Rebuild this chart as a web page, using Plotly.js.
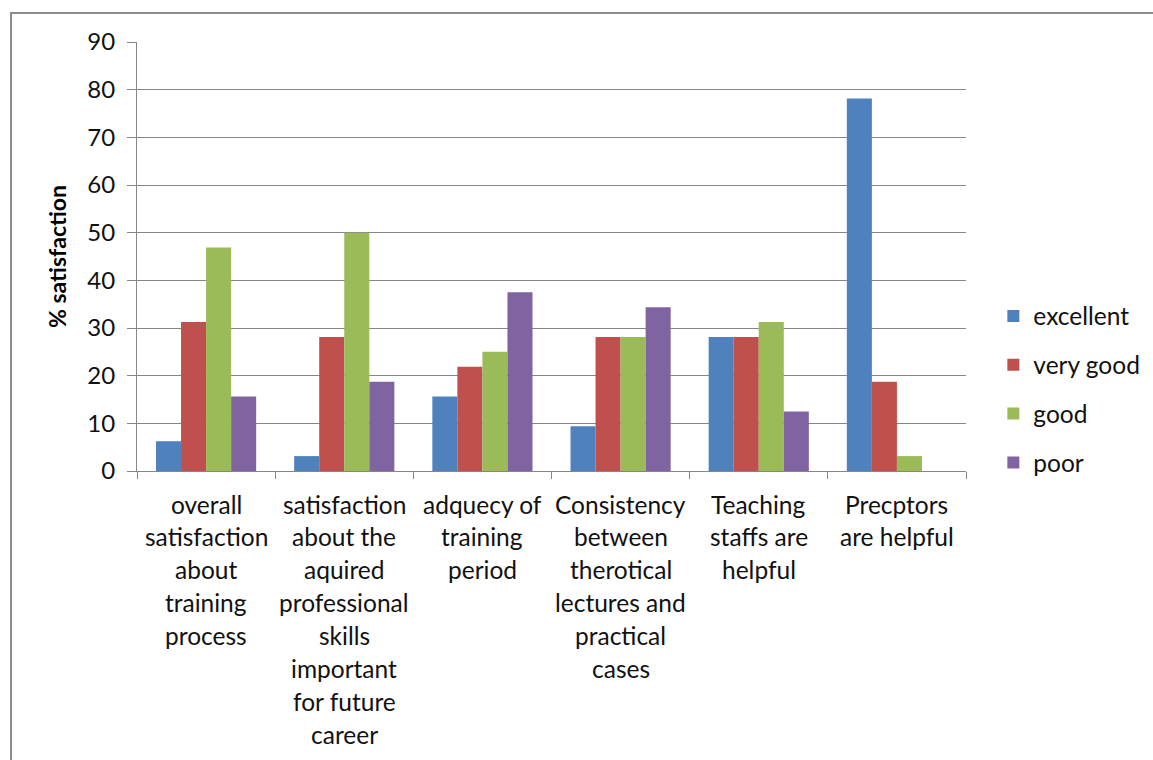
<!DOCTYPE html>
<html>
<head>
<meta charset="utf-8">
<script src="https://cdn.plot.ly/plotly-3.0.1.min.js"></script>
<style>
  html, body { margin: 0; padding: 0; background: #ffffff; }
  #frame {
    position: absolute; left: 10px; top: 12px; right: -10px; bottom: -10px;
    border-left: 2px solid #8c8c8c; border-top: 2px solid #8c8c8c;
    pointer-events: none; z-index: 5;
  }
  #chart { position: absolute; left: 0; top: 0; width: 1153px; height: 760px; }
</style>
</head>
<body>
<div id="chart"></div>
<div id="frame"></div>
<script>
// Survey items (each line of a label is kept separately)
const categories = [
  ["overall", "satisfaction", "about", "training", "process"],
  ["satisfaction", "about the", "aquired", "professional", "skills", "important", "for future", "career"],
  ["adquecy of", "training", "period"],
  ["Consistency", "between", "therotical", "lectures and", "practical", "cases"],
  ["Teaching", "staffs are", "helpful"],
  ["Precptors", "are helpful"]
];
const categoryKeys = categories.map(c => c.join(" "));

// Percentage of respondents per rating
const excellent = [6.25, 3.125, 15.625, 9.375, 28.125, 78.125];
const veryGood  = [31.25, 28.125, 21.875, 28.125, 28.125, 18.75];
const good      = [46.875, 50, 25, 28.125, 31.25, 3.125];
const poor      = [15.625, 18.75, 37.5, 34.375, 12.5, 0];

const seriesNames = ["excellent", "very good", "good", "poor"];
const seriesValues = [excellent, veryGood, good, poor];
const seriesColors = ["#4F81BD", "#C0504D", "#9BBB59", "#8064A2"];

const yTicks = [0, 10, 20, 30, 40, 50, 60, 70, 80, 90];

const FONT = "Lato, 'Open Sans', sans-serif";
const TEXT = "#111111";

const traces = seriesNames.map((name, i) => ({
  type: "bar",
  name: name,
  x: categoryKeys,
  y: seriesValues[i],
  legendgroup: name,
  marker: { color: seriesColors[i], line: { width: 0 } },
  hoverinfo: "x+y+name"
}));

// Category labels, one annotation per line for Excel-like line spacing
const annotations = [];
categories.forEach((lines, ci) => {
  lines.forEach((line, li) => {
    annotations.push({
      x: categoryKeys[ci], y: 0, xref: "x", yref: "y",
      text: line, showarrow: false,
      xanchor: "center", yanchor: "middle",
      yshift: -33 - li * 32.9,
      font: { family: FONT, size: 24.5, color: TEXT }
    });
  });
});

const layout = {
  width: 1153, height: 760,
  margin: { l: 137, r: 187, t: 42, b: 289, autoexpand: false },
  paper_bgcolor: "#ffffff", plot_bgcolor: "#ffffff",
  font: { family: FONT, size: 24, color: TEXT },
  barmode: "group",
  bargap: 0.275,
  bargroupgap: 0,
  showlegend: true,
  legend: {
    x: 1.033, xanchor: "left", y: 0.19, yanchor: "middle",
    font: { family: FONT, size: 24.5, color: TEXT },
    traceorder: "grouped", tracegroupgap: 14,
    itemwidth: 30, bgcolor: "rgba(0,0,0,0)"
  },
  xaxis: {
    type: "category",
    showticklabels: false,
    showgrid: false,
    showline: true, linecolor: "#868686", linewidth: 1,
    ticks: "outside", tickson: "boundaries", ticklen: 7, tickcolor: "#868686",
    zeroline: false, fixedrange: true
  },
  yaxis: {
    range: [0, 90],
    tickvals: yTicks,
    ticktext: yTicks.map(String),
    showgrid: true, gridcolor: "#868686", gridwidth: 1,
    showline: true, linecolor: "#868686", linewidth: 1,
    ticks: "outside", ticklen: 9, tickcolor: "#868686",
    zeroline: false,
    tickfont: { family: FONT, size: 24, color: TEXT },
    ticklabelstandoff: 7,
    title: {
      text: "<b>% satisfaction</b>",
      font: { family: FONT, size: 23, color: "#000000" },
      standoff: 14
    },
    fixedrange: true
  },
  annotations: annotations
};

Plotly.newPlot("chart", traces, layout, { displayModeBar: false, staticPlot: true });
</script>
</body>
</html>
